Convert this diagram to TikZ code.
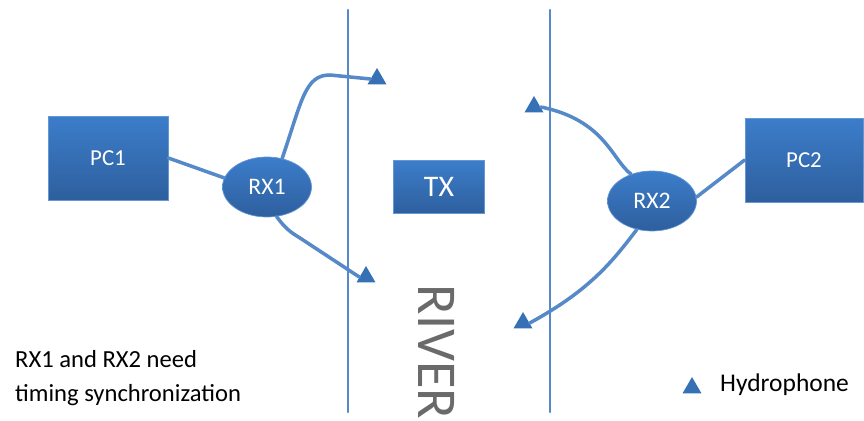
\documentclass[tikz,border=0pt]{standalone}
\usepackage{fontspec}
\setmainfont{Carlito}
\usepackage{tikz}
\usetikzlibrary{positioning}
\usetikzlibrary{shapes}
\definecolor{boxtop}{HTML}{3C7DCA}
\definecolor{boxbtm}{HTML}{2E5F9E}
\definecolor{wire}{HTML}{5589C8}
\definecolor{rivertext}{HTML}{6A6A6A}
\tikzset{
	pcbox/.style={rectangle, top color=boxtop, bottom color=boxbtm, draw=boxtop!80!white, text=white, font=\fontsize{13}{15}\selectfont},
	rxnode/.style={ellipse, top color=boxtop, bottom color=boxbtm, draw=boxtop!80!white, text=white, minimum width=1.78cm, minimum height=1.2cm, inner sep=0pt, font=\fontsize{13.5}{15}\selectfont},
	hydro/.style={regular polygon, regular polygon sides=3, fill=boxtop!90!black, minimum size=0.44cm, inner sep=0pt},
	wireline/.style={draw=wire, line width=2pt, line cap=round}
}
\begin{document}
\begin{tikzpicture}[x=0.02cm, y=-0.02cm]
	\useasboundingbox (0,0) rectangle (864,421);

	% river banks
	\coordinate(bankATop) at (348,10);
	\coordinate(bankABtm) at (348,412);
	\draw[wireline, line width=1.3pt](bankATop) -- (bankABtm);
	\coordinate(bankBTop) at (550,10);
	\coordinate(bankBBtm) at (550,412);
	\draw[wireline, line width=1.3pt](bankBTop) -- (bankBBtm);

	\node[rotate=-90, text=rivertext, font=\fontsize{32}{32}\selectfont](river) at (437,352){RIVER};

	% hydrophones
	\node[hydro](hydOne) at (377,79){};
	\node[hydro](hydTwo) at (366,277){};
	\node[hydro](hydThree) at (534,107){};
	\node[hydro](hydFour) at (523,323){};

	% boxes
	\node[pcbox, minimum width=2.4cm, minimum height=1.68cm](pcOne) at (108,158){PC1};
	\node[pcbox, minimum width=2.36cm, minimum height=1.68cm](pcTwo) at (804,160){PC2};
	\node[pcbox, minimum width=1.82cm, minimum height=1.06cm, font=\fontsize{17}{19}\selectfont](tx) at (439,187){TX};
	\node[rxnode](rxOne) at (267,187){RX1};
	\node[rxnode](rxTwo) at (652,201){RX2};

	% cables
	\draw[wireline](pcOne.east) -- (rxOne.168);
	\draw[wireline](rxTwo.5) -- (pcTwo.west);
	\draw[wireline](rxOne.62) .. controls (302,100) and (305,75) .. (330,75) -- (hydOne.west);
	\draw[wireline](rxOne.-72) .. controls (285,228) and (290,232) .. (300,238) -- (hydTwo.west);
	\draw[wireline](rxTwo.128) .. controls (612,160) and (605,120) .. (hydThree.east);
	\draw[wireline](rxTwo.-118) .. controls (612,262) and (590,290) .. (hydFour.east);

	% notes
	\node[anchor=west, align=left, font=\fontsize{14}{19}\selectfont](note) at (9,378){RX1 and RX2 need\\timing synchronization};
	\node[hydro](legendHyd) at (692,388){};
	\node[anchor=west, font=\fontsize{14.5}{16}\selectfont](legendText) at (714,385){Hydrophone};
\end{tikzpicture}
\end{document}
